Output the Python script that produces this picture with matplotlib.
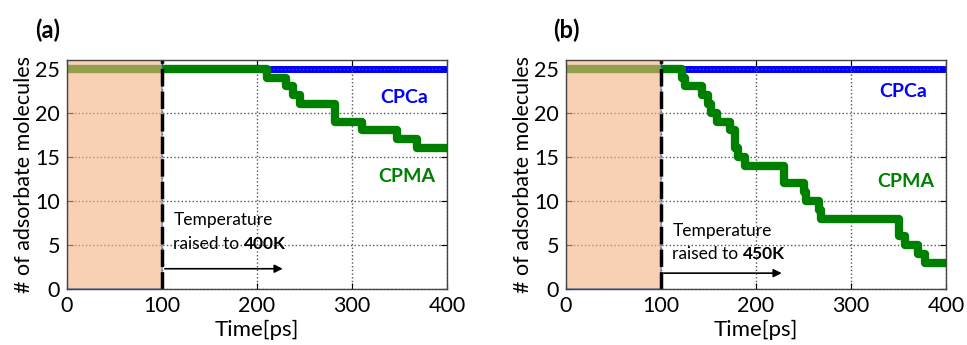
import matplotlib
matplotlib.use('Agg')
import matplotlib.pyplot as plt
from matplotlib.patches import Rectangle

plt.rcParams['font.family'] = ['Lato', 'DejaVu Sans']

# Panel (a): 400K
time_a = [0, 211, 231, 238, 245, 282, 310, 347, 368, 400]
cpma_a = [25, 24, 23, 22, 21, 19, 18, 17, 16, 16]

# Panel (b): 450K
time_b = [0, 122, 125, 143, 150, 153, 159, 173, 178, 181, 188, 229, 250, 253,
          266, 268, 350, 357, 371, 378, 400]
cpma_b = [25, 24, 23, 22, 21, 20, 19, 18, 16, 15, 14, 12, 11, 10,
          9, 8, 6, 5, 4, 3, 3]

time_cpca = [0, 400]
cpca = [25, 25]

panels = [
    dict(label='(a)', temp='400K', t=time_a, y=cpma_a,
         txt_y=(7.8, 5.1), arrow_y=2.3, cpca_y=21.7, cpma_y=12.8, lab_x=0.036),
    dict(label='(b)', temp='450K', t=time_b, y=cpma_b,
         txt_y=(6.6, 4.0), arrow_y=1.8, cpca_y=22.4, cpma_y=12.2, lab_x=0.572),
]

fig = plt.figure(figsize=(9.67, 3.45), dpi=100)
lefts = [0.0693, 0.5853]

for left, p in zip(lefts, panels):
    ax = fig.add_axes([left, 0.1623, 0.393, 0.664])

    ax.step(time_cpca, cpca, where='post', color='#0000ff', lw=5, zorder=2)
    ax.step(p['t'], p['y'], where='post', color='#008000', lw=6, zorder=3)

    # equilibration period before heating
    ax.add_patch(Rectangle((0, 0), 100, 26, facecolor='#f4b183', alpha=0.6,
                           edgecolor='#4472c4', lw=1.2, zorder=4))
    ax.plot([100, 100], [0, 26], color='black', lw=2.5, ls=(0, (5, 1.5)), zorder=5)

    ax.annotate('', xy=(230, p['arrow_y']), xytext=(100, p['arrow_y']),
                arrowprops=dict(arrowstyle='-|>', color='black', lw=1.2,
                                mutation_scale=12), zorder=6)
    ax.text(112, p['txt_y'][0], 'Temperature', fontsize=12.5, va='center', ha='left',
            zorder=6)
    t1 = ax.text(112, p['txt_y'][1], 'raised to ', fontsize=12.5,
                 va='center', ha='left', zorder=6)
    ax.annotate(p['temp'], xy=(1, 0.5), xycoords=t1, fontsize=12.5,
                fontweight='bold', va='center', ha='left', zorder=6)

    ax.text(355, p['cpca_y'], 'CPCa', color='#0000ff', fontsize=14,
            fontweight='bold', ha='center', va='center')
    ax.text(358, p['cpma_y'], 'CPMA', color='#008000', fontsize=14,
            fontweight='bold', ha='center', va='center')

    ax.set_xlim(0, 400)
    ax.set_ylim(0, 26)
    ax.set_xticks([0, 100, 200, 300, 400])
    ax.set_yticks([0, 5, 10, 15, 20, 25])
    ax.grid(True, ls=':', color='#555555', lw=1)
    ax.set_axisbelow(False)
    ax.tick_params(direction='in', top=True, right=True, labelsize=15.5, length=4, pad=5)
    for s in ax.spines.values():
        s.set_color('#444444')
        s.set_linewidth(1.0)
        s.set_zorder(7)

    ax.set_xlabel('Time[ps]', fontsize=16, labelpad=3)
    ax.set_ylabel('# of adsorbate molecules', fontsize=15.5, labelpad=1)

    fig.text(p['lab_x'], 0.913, p['label'], fontsize=17, fontweight='bold',
             ha='left', va='center')

fig.savefig('out.png', dpi=100)
